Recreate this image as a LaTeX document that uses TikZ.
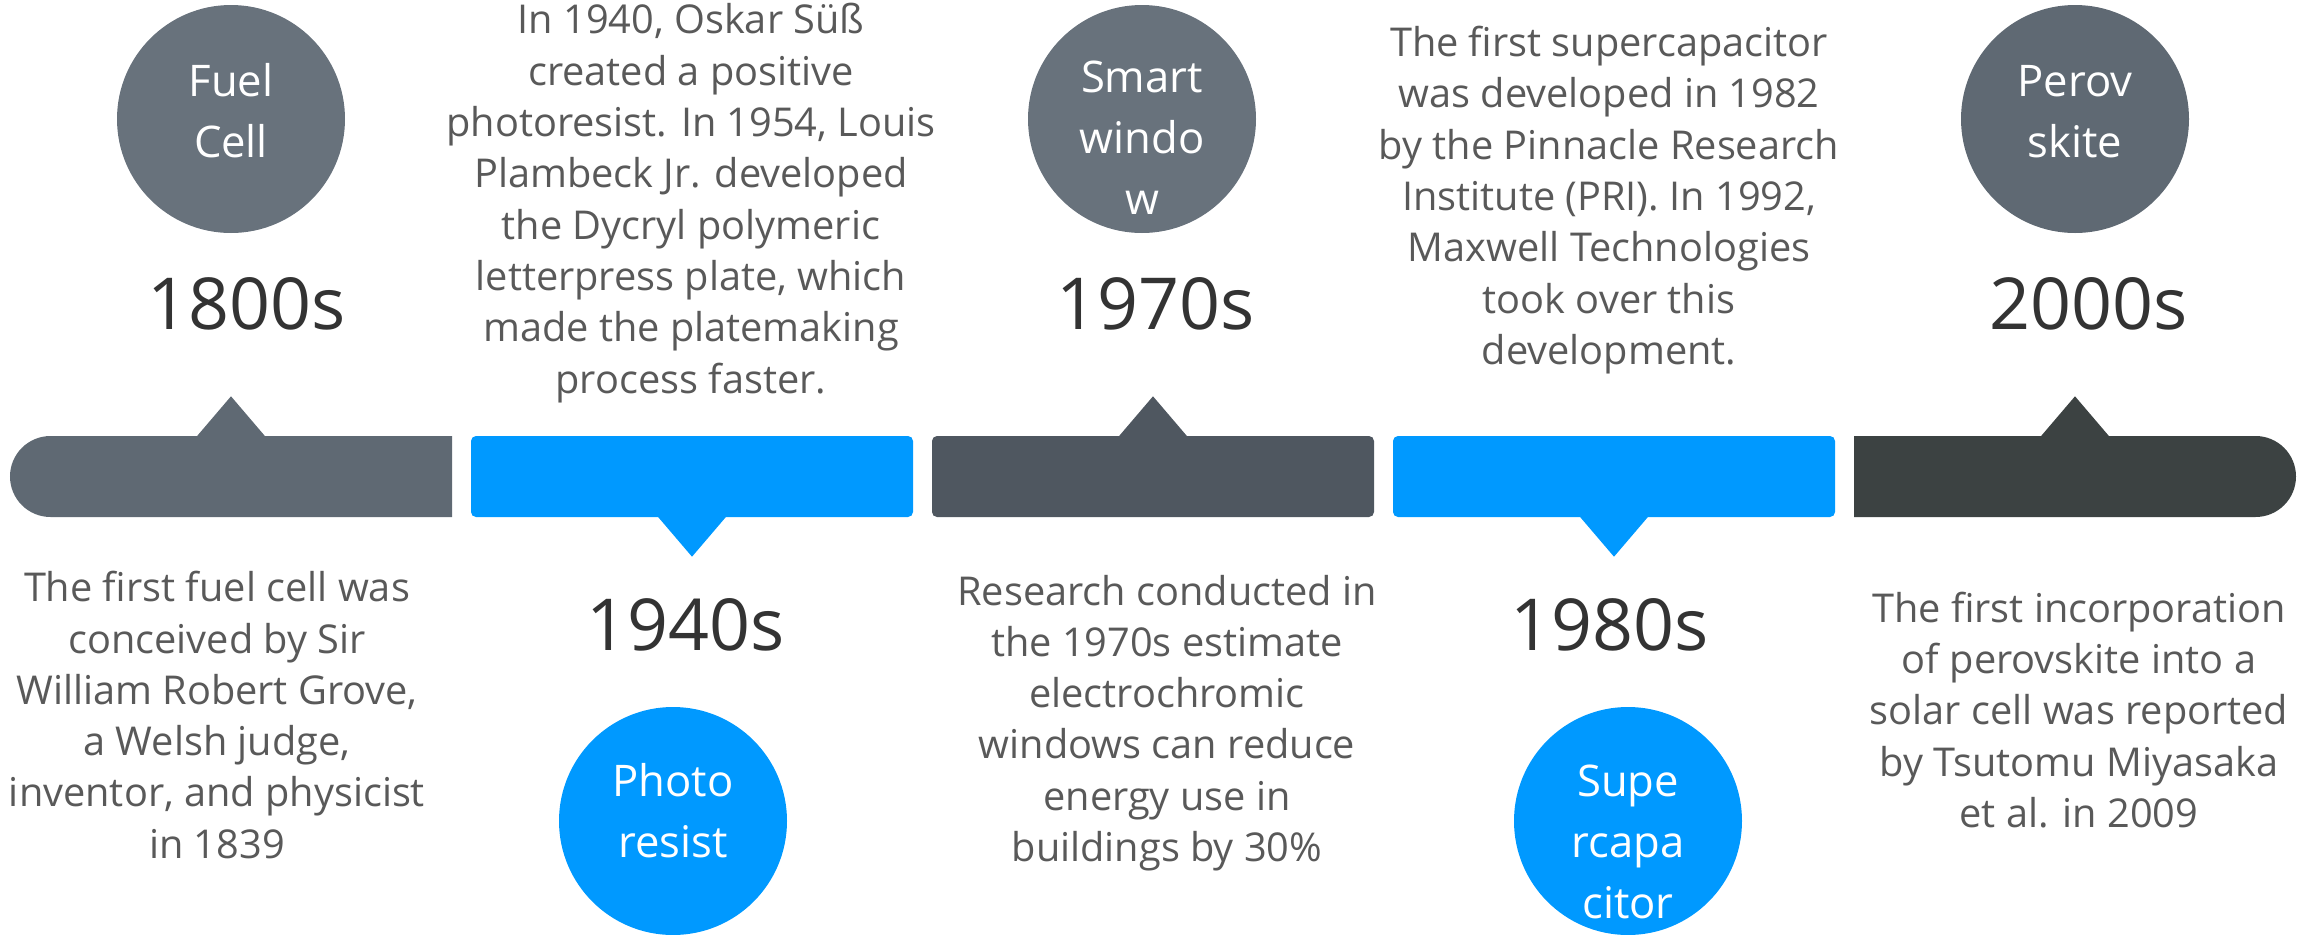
\documentclass[tikz,border=0pt]{standalone}
\usepackage{fontspec}
\setmainfont{Open Sans}
\usetikzlibrary{shapes.misc,positioning}

\definecolor{slate}{HTML}{5F6973}
\definecolor{skyblue}{HTML}{0099FF}
\definecolor{charcoal}{HTML}{4F5760}
\definecolor{darkslate}{HTML}{3C4242}
\definecolor{circgray}{HTML}{68727C}
\definecolor{yearink}{HTML}{333333}
\definecolor{descink}{HTML}{595959}

\tikzset{
  barbox/.style = {rectangle, rounded corners = 0.05cm, inner sep = 0pt,
                   minimum width = 4.42cm, minimum height = 0.81cm},
  endbar/.style = {rounded rectangle, inner sep = 0pt,
                   minimum width = 4.42cm, minimum height = 0.81cm},
  bubble/.style = {circle, inner sep = 0pt, minimum size = 2.28cm},
  bubtext/.style = {anchor = north, inner sep = 0pt, align = center, text = white,
                    font = \fontsize{12.4}{17.4}\selectfont},
  yeartext/.style = {inner sep = 0pt, text = yearink,
                     font = \fontsize{20.4}{24}\selectfont},
  desctext/.style = {inner sep = 0pt, align = center, text = descink,
                     font = \fontsize{11.3}{14.6}\selectfont}
}

\begin{document}
\begin{tikzpicture}
  \useasboundingbox (0,0) rectangle (23.23,-9.35);
  \clip (0,0) rectangle (23.23,-9.35);

      % timeline bars
      \node[endbar,
            rounded rectangle right arc = none,
            fill = slate] (bar1800) at (2.31,-4.765) {};
      \node[barbox, fill = skyblue] (bar1940) at (6.92,-4.765) {};
      \node[barbox, fill = charcoal] (bar1970) at (11.53,-4.765) {};
      \node[barbox, fill = skyblue] (bar1980) at (16.14,-4.765) {};
      \node[endbar,
            rounded rectangle left arc = none,
            fill = darkslate] (bar2000) at (20.75,-4.765) {};

      % pointers
      \fill[slate] ([xshift=-0.35cm,yshift=-0.02cm]bar1800.north) -- ++(0.35,0.41) -- ++(0.35,-0.41) -- cycle;
      \fill[skyblue] ([xshift=-0.35cm,yshift=0.02cm]bar1940.south) -- ++(0.35,-0.41) -- ++(0.35,0.41) -- cycle;
      \fill[charcoal] ([xshift=-0.35cm,yshift=-0.02cm]bar1970.north) -- ++(0.35,0.41) -- ++(0.35,-0.41) -- cycle;
      \fill[skyblue] ([xshift=-0.35cm,yshift=0.02cm]bar1980.south) -- ++(0.35,-0.41) -- ++(0.35,0.41) -- cycle;
      \fill[darkslate] ([xshift=-0.35cm,yshift=-0.02cm]bar2000.north) -- ++(0.35,0.41) -- ++(0.35,-0.41) -- cycle;

      % bubbles
      \node[bubble, fill = circgray] (fuel) at (2.31,-1.19) {};
      \node[bubtext] at ([yshift=-0.58cm]fuel.north) {Fuel\\Cell};

      \node[bubble, fill = skyblue] (photo) at (6.73,-8.21) {};
      \node[bubtext] at ([yshift=-0.56cm]photo.north) {Photo\\resist};

      \node[bubble, fill = circgray] (smart) at (11.42,-1.19) {};
      \node[bubtext] at ([yshift=-0.56cm]smart.north) {Smart\\windo\\w};

      \node[bubble, fill = skyblue] (supcap) at (16.28,-8.21) {};
      \node[bubtext] at ([yshift=-0.58cm]supcap.north) {Supe\\rcapa\\citor};

      \node[bubble, fill = slate] (perov) at (20.75,-1.19) {};
      \node[bubtext] at ([yshift=-0.60cm]perov.north) {Perov\\skite};

      % years
      \node[yeartext] (y1800) at (2.47,-3.04) {1800s};
      \node[yeartext] (y1940) at (6.86,-6.25) {1940s};
      \node[yeartext] (y1970) at (11.56,-3.04) {1970s};
      \node[yeartext] (y1980) at (16.10,-6.25) {1980s};
      \node[yeartext] (y2000) at (20.89,-3.04) {2000s};

      % descriptions
      \node[desctext] (d1800) at (2.17,-7.15) {The first fuel cell was\\conceived by Sir\\William Robert Grove,\\a Welsh judge,\\inventor, and physicist\\in 1839};
      \node[desctext] (d1940) at (6.91,-2.03) {In 1940, Oskar Süß\\created a positive\\photoresist. In 1954, Louis\\Plambeck Jr. developed\\the Dycryl polymeric\\letterpress plate, which\\made the platemaking\\process faster.};
      \node[desctext] (d1970) at (11.67,-7.23) {Research conducted in\\the 1970s estimate\\electrochromic\\windows can reduce\\energy use in\\buildings by 30\%};
      \node[desctext] (d1980) at (16.09,-2.00) {The first supercapacitor\\was developed in 1982\\by the Pinnacle Research\\Institute (PRI). In 1992,\\Maxwell Technologies\\took over this\\development.};
      \node[desctext] (d2000) at (20.79,-7.10) {The first incorporation\\of perovskite into a\\solar cell was reported\\by Tsutomu Miyasaka\\et al. in 2009};

  \end{tikzpicture}
\end{document}
